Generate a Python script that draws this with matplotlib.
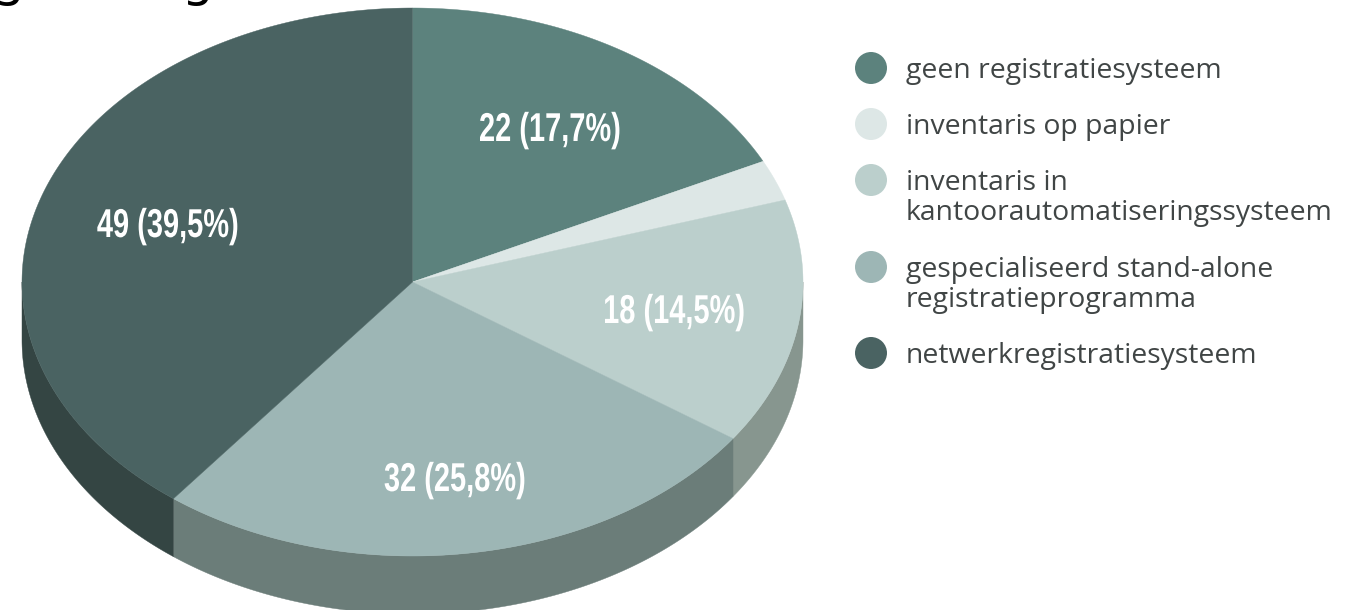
"""
Pseudo-3D pie chart: registratiesystemen.
Tilted disc is drawn as filled polygons on a pixel-sized axes.
"""

import numpy as np
import matplotlib
matplotlib.use("Agg")
import matplotlib.pyplot as plt
from matplotlib.patheffects import AbstractPathEffect
from matplotlib.transforms import Affine2D

categories = [
    "geen registratiesysteem",
    "inventaris op papier",
    "inventaris in\nkantoorautomatiseringssysteem",
    "gespecialiseerd stand-alone\nregistratieprogramma",
    "netwerkregistratiesysteem",
]
values = [22, 3, 18, 32, 49]
labels = {0: "22 (17,7%)", 2: "18 (14,5%)", 3: "32 (25,8%)", 4: "49 (39,5%)"}
top_colors = ["#5c827d", "#dde7e6", "#bbcfcc", "#9db6b5", "#4a6362"]
side_colors = ["#46625f", "#a8b0ae", "#87968f", "#6b7d79", "#344543"]

W, H = 1358, 610
CX, CY, RX, RY, DEPTH = 412.5, 282, 390.5, 274, 58
LABEL_POS = {0: (550, 130), 2: (674, 312), 3: (455, 480), 4: (168, 226)}
LEGEND_Y = [68, 124, 180, 267, 353]
LEGEND_FONT = ["Open Sans", "DejaVu Sans"]
BOLD_FONT = ["Liberation Sans", "DejaVu Sans"]


class Squeeze(AbstractPathEffect):
    # narrows the glyphs around their centre, no condensed bold is installed
    def __init__(self, sx):
        self.sx = sx

    def draw_path(self, renderer, gc, tpath, affine, rgbFace=None):
        box = tpath.get_extents()
        mid = (box.x0 + box.x1) / 2
        squeeze = Affine2D().translate(-mid, 0).scale(self.sx, 1).translate(mid, 0)
        renderer.draw_path(gc, tpath, squeeze + affine, rgbFace)


def rim(a0, a1):
    # angles in degrees clockwise from 12 o'clock
    t = np.radians(np.linspace(a0, a1, 200))
    return CX + RX * np.sin(t), CY - RY * np.cos(t)


fig = plt.figure(figsize=(W / 100, H / 100), dpi=100)
ax = fig.add_axes([0, 0, 1, 1])
ax.set_xlim(0, W)
ax.set_ylim(H, 0)
ax.axis("off")

# clipped title, only the descenders reach into the picture
for gx in (8, 197):
    ax.text(gx, -4, "g", fontsize=36, family="DejaVu Sans", color="black", ha="center", va="baseline")

total = sum(values)
edges = np.concatenate([[0], np.cumsum(values) / total * 360])

# side wall, only the part facing the viewer
for i in range(len(values)):
    a0, a1 = max(edges[i], 90), min(edges[i + 1], 270)
    if a1 <= a0:
        continue
    x, y = rim(a0, a1)
    ax.fill(np.r_[x, x[::-1]], np.r_[y, y[::-1] + DEPTH], color=side_colors[i], lw=0.3, zorder=1)

# top of the disc
for i in range(len(values)):
    x, y = rim(edges[i], edges[i + 1])
    ax.fill(np.r_[CX, x], np.r_[CY, y], color=top_colors[i], lw=0.3, zorder=2)

for i, txt in labels.items():
    ax.text(*LABEL_POS[i], txt, color="white", fontsize=29, fontweight="bold", family=BOLD_FONT,
            ha="center", va="center", zorder=3, path_effects=[Squeeze(0.72)])

# legend
ax.scatter([871] * len(categories), LEGEND_Y, s=(32 * 0.72) ** 2, c=top_colors, linewidths=0, zorder=3)
for cat, y in zip(categories, LEGEND_Y):
    ax.text(906, y - 11, cat, fontsize=20.4, family=LEGEND_FONT, color="#404545",
            ha="left", va="top", linespacing=1.09)

fig.savefig("out.png", dpi=100)
